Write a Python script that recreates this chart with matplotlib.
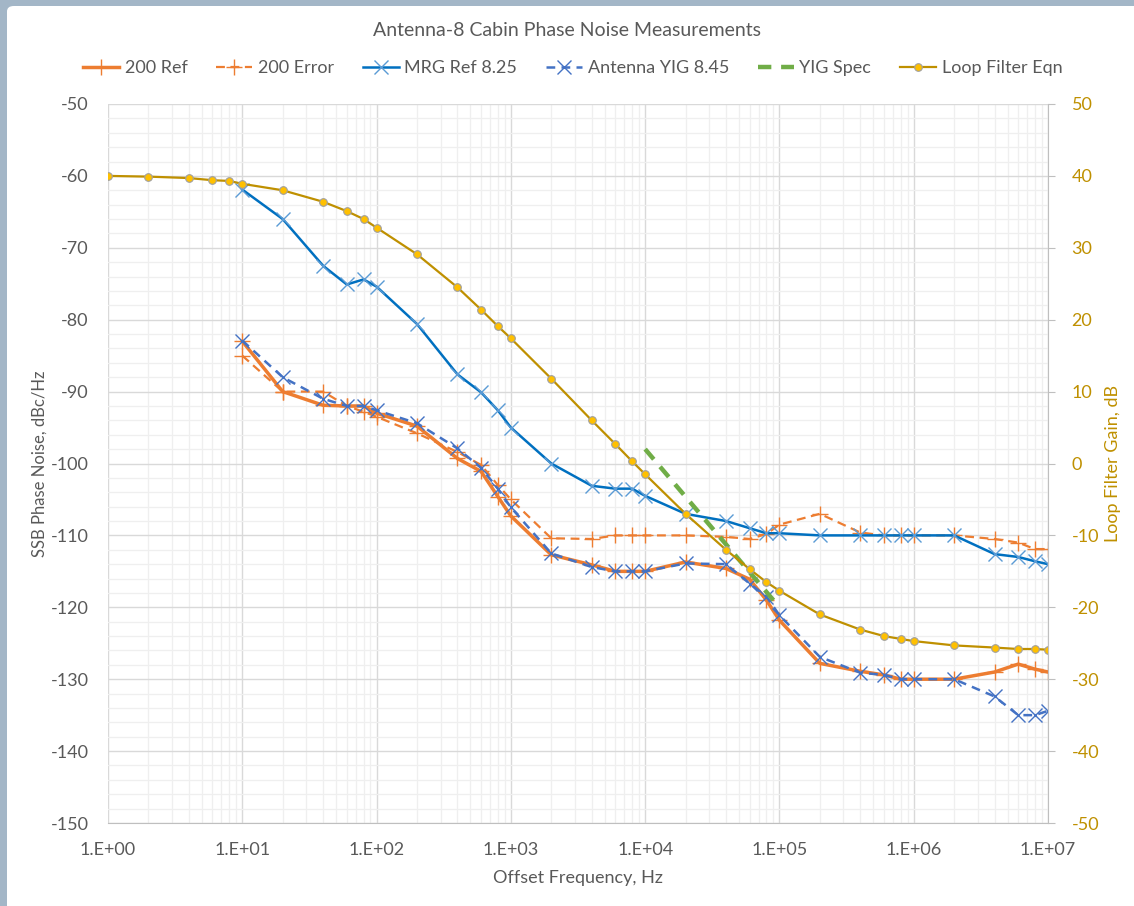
import matplotlib.pyplot as plt
from matplotlib.patches import FancyBboxPatch
from matplotlib.ticker import FixedLocator, FuncFormatter, MultipleLocator
import numpy as np

plt.rcParams['font.family'] = ['Lato', 'DejaVu Sans']
plt.rcParams['axes.unicode_minus'] = False

# offset frequencies, Hz
freq = [1e1, 2e1, 4e1, 6e1, 8e1, 1e2, 2e2, 4e2, 6e2, 8e2, 1e3, 2e3, 4e3, 6e3, 8e3,
        1e4, 2e4, 4e4, 6e4, 8e4, 1e5, 2e5, 4e5, 6e5, 8e5, 1e6, 2e6, 4e6, 6e6, 8e6, 1e7]
freq_lf = [1, 2, 4, 6, 8] + freq

# SSB phase noise, dBc/Hz
ref200 = [-83.0, -90.0, -91.9, -92.0, -92.0, -93.0, -94.8, -99.3, -101.1, -104.6, -107.3,
          -112.7, -114.1, -115.0, -115.0, -115.0, -113.7, -114.6, -116.1, -119.0, -121.8,
          -127.8, -128.9, -129.4, -130.0, -130.0, -130.0, -129.0, -127.9, -128.6, -129.0]
err200 = [-85.0, -90.0, -90.0, -92.0, -92.8, -93.5, -95.8, -98.4, -100.2, -103.0, -105.0,
          -110.4, -110.5, -110.0, -110.0, -110.0, -110.0, -110.2, -110.5, -109.8, -108.5,
          -107.0, -109.6, -110.0, -110.0, -110.0, -110.0, -110.5, -111.0, -111.9, -111.9]
mrg825 = [-61.9, -66.0, -72.5, -75.1, -74.4, -75.4, -80.6, -87.6, -90.1, -92.6, -95.0,
          -100.0, -103.1, -103.5, -103.5, -104.5, -107.0, -108.0, -109.0, -109.7, -109.7,
          -110.0, -110.0, -110.0, -110.0, -110.0, -110.0, -112.6, -113.0, -113.6, -114.0]
yig845 = [-82.9, -88.0, -91.0, -92.0, -92.0, -92.6, -94.4, -97.9, -100.6, -103.5, -106.1,
          -112.5, -114.4, -115.0, -115.0, -115.0, -113.9, -114.0, -116.7, -118.5, -121.1,
          -126.9, -129.1, -129.4, -130.0, -130.0, -130.0, -132.4, -135.0, -135.0, -134.4]
spec_f = [1e4, 1e5]
spec = [-98.0, -120.0]

# loop filter gain, dB (right axis)
loop_gain = [40.0, 39.9, 39.7, 39.4, 39.3, 38.9, 38.0, 36.4, 35.1, 34.0, 32.8, 29.1, 24.5,
             21.4, 19.1, 17.4, 11.8, 6.0, 2.7, 0.3, -1.5, -7.0, -12.0, -14.7, -16.5, -17.7,
             -21.0, -23.1, -24.0, -24.4, -24.7, -25.3, -25.6, -25.8, -25.8, -25.9]

grey_txt = '#595959'
gold = '#BF9000'

fig = plt.figure(figsize=(11.34, 9.06), dpi=100, facecolor='#a3b6c7')
fig.patches.append(FancyBboxPatch((7 / 1134, -0.02), 1.05, 0.02 + 1 - 6 / 906,
                                  boxstyle='round,pad=0,rounding_size=0.006',
                                  transform=fig.transFigure, facecolor='white',
                                  edgecolor='none', zorder=-5))

ax = fig.add_axes([108 / 1134, 1 - 823 / 906, 940 / 1134, 719 / 906])
ax.set_facecolor('white')
ax2 = ax.twinx()

ax.set_xscale('log')
ax.set_xlim(1, 1e7)
ax.set_ylim(-150, -50)
ax2.set_ylim(-50, 50)

ax.yaxis.set_major_locator(MultipleLocator(10))
ax.yaxis.set_minor_locator(MultipleLocator(2))
ax2.yaxis.set_major_locator(MultipleLocator(10))
ax.xaxis.set_major_locator(FixedLocator([10.0 ** k for k in range(8)]))
ax.xaxis.set_minor_locator(FixedLocator([m * 10.0 ** k for k in range(7) for m in range(2, 10)]))
ax.xaxis.set_major_formatter(FuncFormatter(lambda v, p: '1.E+%02d' % round(np.log10(v))))
ax.xaxis.set_minor_formatter(FuncFormatter(lambda v, p: ''))

ax.grid(which='major', color='#d9d9d9', lw=1.0)
ax.grid(which='minor', color='#efefef', lw=0.9)
ax.set_axisbelow(True)

for sp in ['top', 'left']:
    ax.spines[sp].set_visible(False)
    ax2.spines[sp].set_visible(False)
ax.spines['right'].set_visible(False)
ax.spines['bottom'].set_color('#bfbfbf')
ax2.spines['bottom'].set_visible(False)
ax2.spines['right'].set_color('#bfbfbf')

ax.tick_params(axis='both', which='both', length=0, labelsize=13, labelcolor=grey_txt)
ax.tick_params(axis='x', pad=14)
ax.tick_params(axis='y', pad=14)
ax2.tick_params(axis='y', length=5, color='#bfbfbf', labelsize=13, labelcolor=gold, pad=12)

mk = dict(markersize=11, markeredgewidth=1.0)
ax.plot(freq, ref200, color='#ED7D31', lw=2.5, marker='+', label='200 Ref', **mk)
ax.plot(freq, err200, color='#ED7D31', lw=1.6, dashes=(4, 2.5), marker='+', label='200 Error', **mk)
ax.plot(freq, mrg825, color='#0070C0', lw=1.8, marker='x', markeredgecolor='#5B9BD5',
        markersize=10, markeredgewidth=1.0, label='MRG Ref 8.25')
ax.plot(freq, yig845, color='#4472C4', lw=1.8, dashes=(3.5, 2.5), marker='x',
        markersize=10, markeredgewidth=1.0, label='Antenna YIG 8.45')
ax.plot(spec_f, spec, color='#70AD47', lw=3.2, dashes=(3, 2.2), label='YIG Spec')
lf, = ax2.plot(freq_lf, loop_gain, color=gold, lw=1.6, marker='o', markersize=5.5,
               markerfacecolor='#FFC000', markeredgecolor='#a0a0a0', markeredgewidth=0.8,
               label='Loop Filter Eqn')

ax.set_xlabel('Offset Frequency, Hz', fontsize=13, color=grey_txt, labelpad=8)
ax.set_ylabel('SSB Phase Noise, dBc/Hz', fontsize=12, color=grey_txt, labelpad=2)
ax2.set_ylabel('Loop Filter Gain, dB', fontsize=13, color=gold, labelpad=4)

fig.text(0.5, 1 - 30 / 906, 'Antenna-8 Cabin Phase Noise Measurements',
         ha='center', va='center', fontsize=14, color=grey_txt)

handles, labels = ax.get_legend_handles_labels()
handles.append(lf)
labels.append(lf.get_label())
leg = fig.legend(handles, labels, loc='center', bbox_to_anchor=(0.505, 1 - 68 / 906), ncol=6,
                 frameon=False, fontsize=13, handlelength=2.0, handletextpad=0.3,
                 columnspacing=1.6)
for t in leg.get_texts():
    t.set_color(grey_txt)

fig.savefig('out.png', dpi=100, facecolor=fig.get_facecolor())
